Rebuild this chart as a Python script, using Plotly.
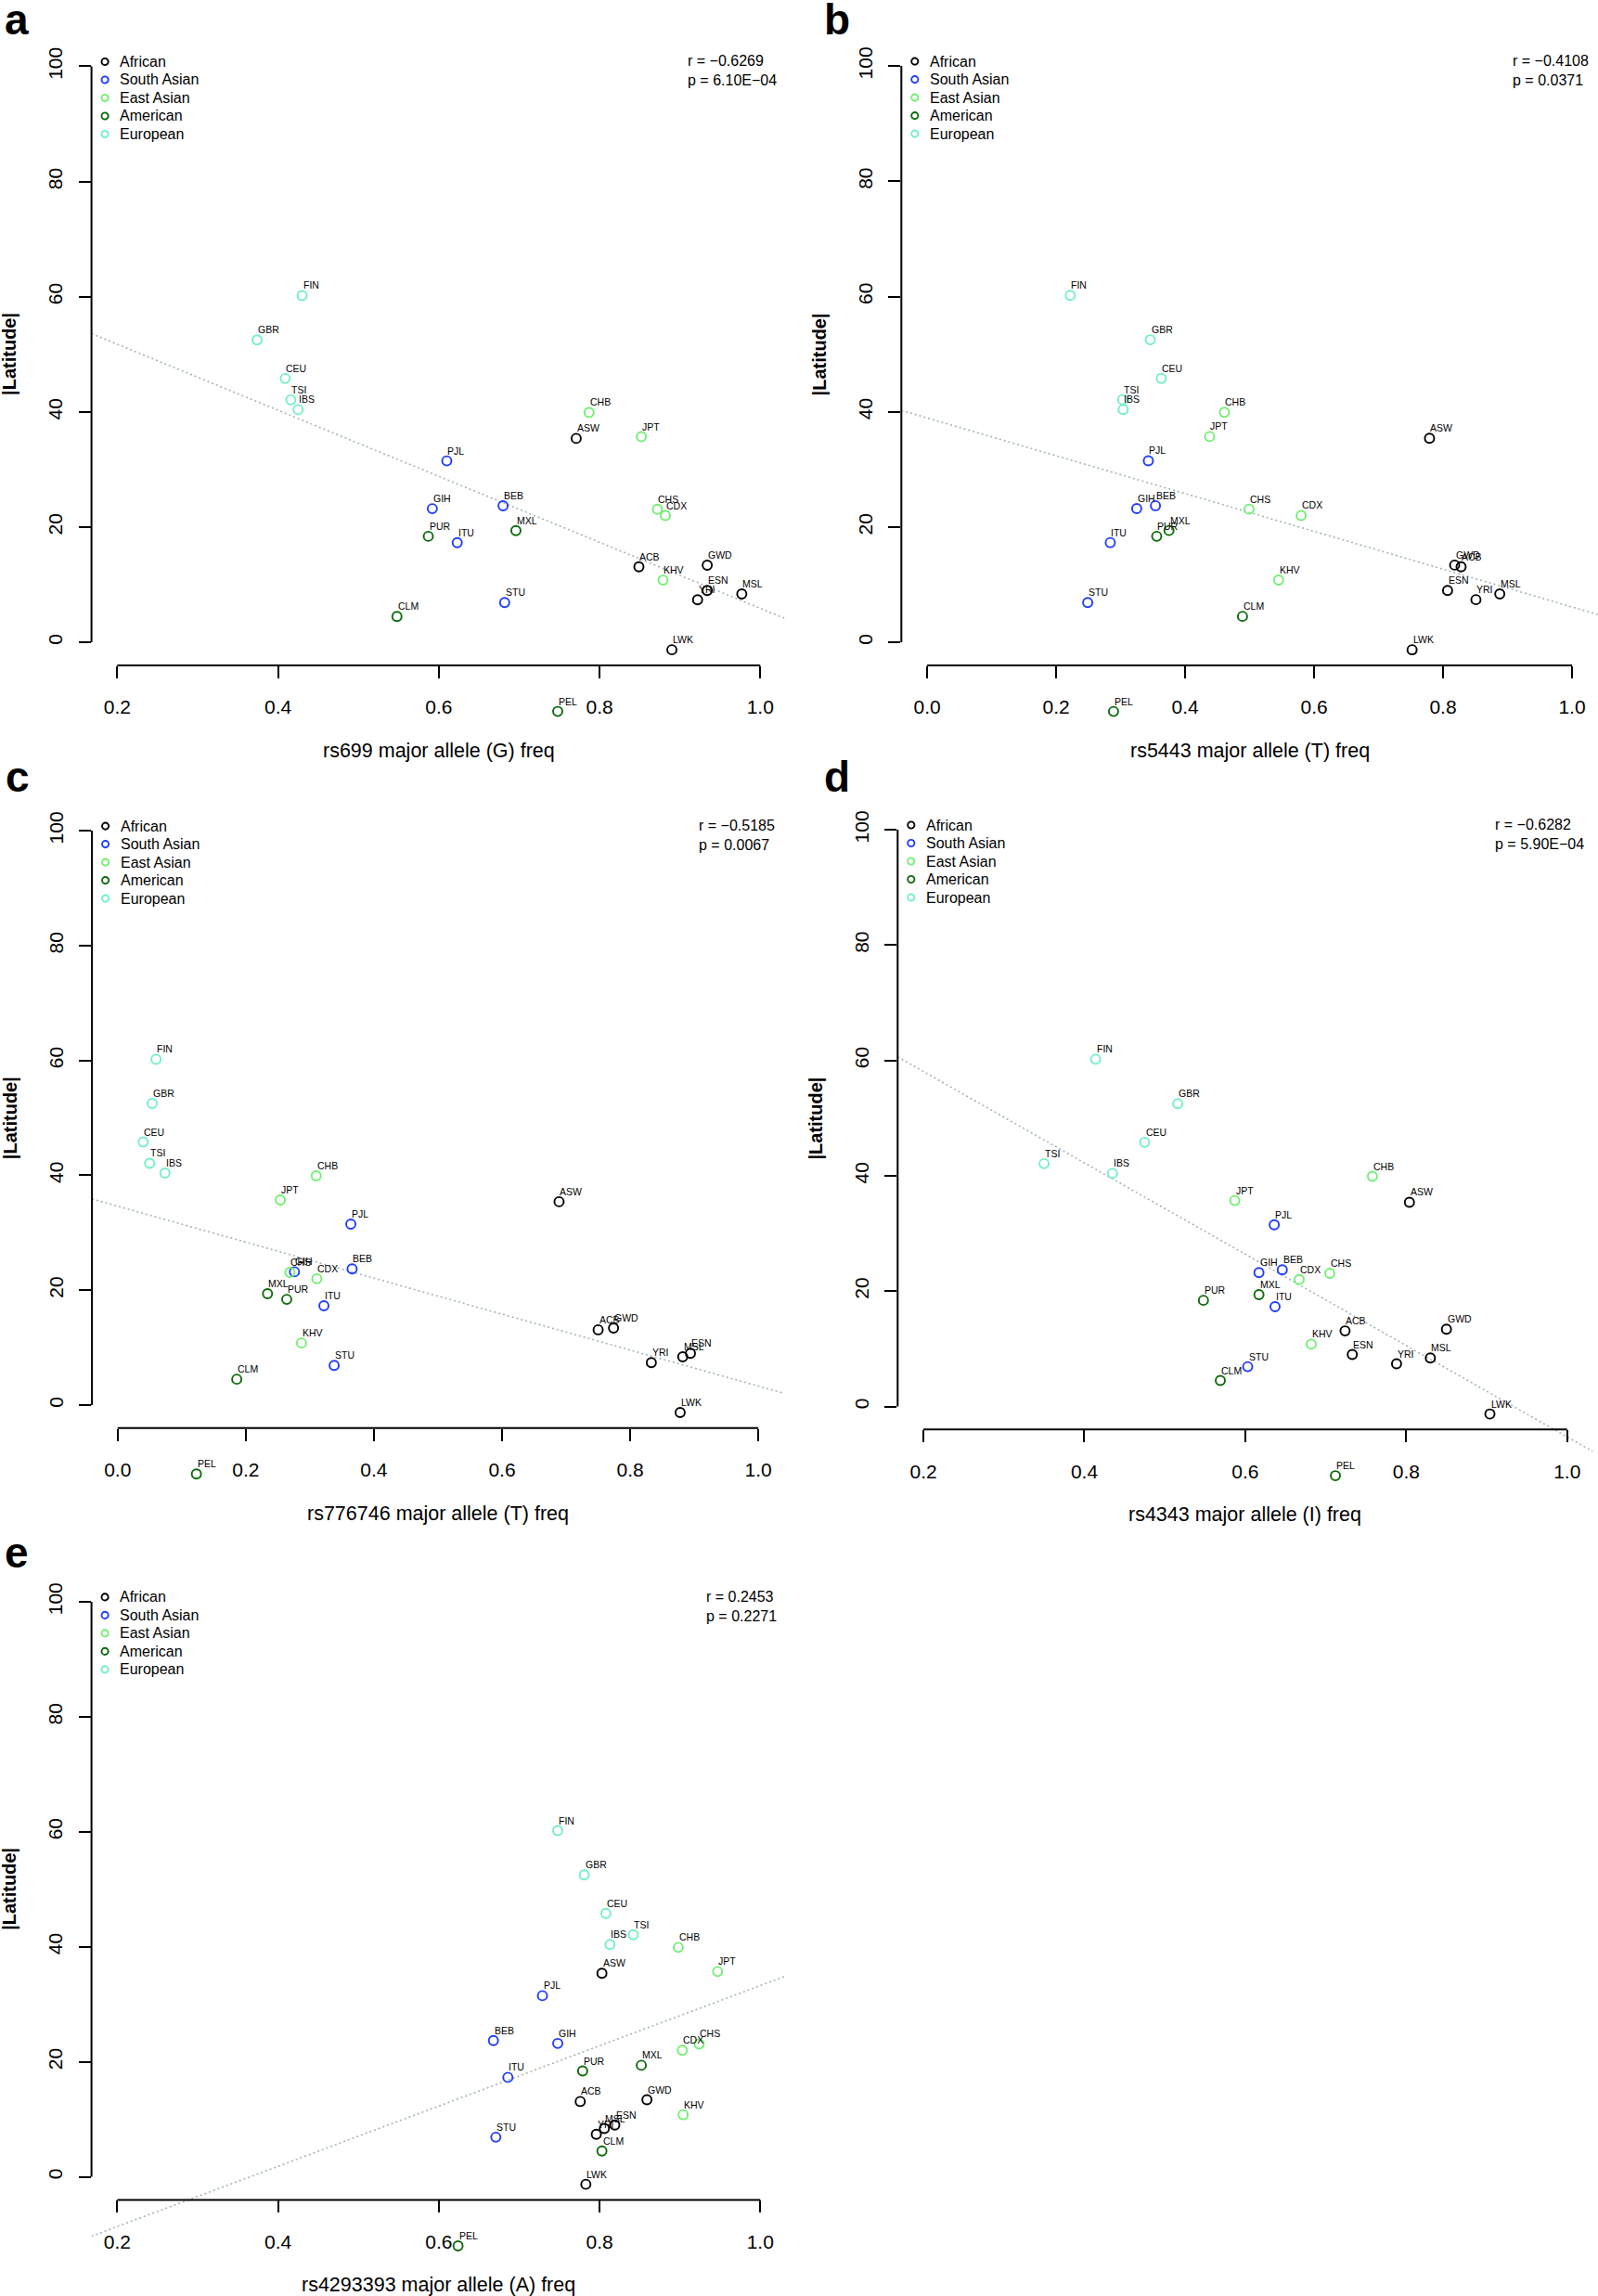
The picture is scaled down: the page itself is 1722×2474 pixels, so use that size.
import numpy as np
import plotly.graph_objects as go

W, H = 1722, 2474
FONT = "Liberation Sans, Arial, Helvetica, sans-serif"

# ---------------- data ----------------
populations = ["ACB", "ASW", "ESN", "GWD", "LWK", "MSL", "YRI",
               "BEB", "GIH", "ITU", "PJL", "STU",
               "CDX", "CHB", "CHS", "JPT", "KHV",
               "CLM", "MXL", "PEL", "PUR",
               "CEU", "FIN", "GBR", "IBS", "TSI"]
population_group = ["African"] * 7 + ["South Asian"] * 5 + ["East Asian"] * 5 + \
                   ["American"] * 4 + ["European"] * 5
latitude = [13.1, 35.4, 9.0, 13.4, -1.3, 8.4, 7.4,
            23.7, 23.2, 17.3, 31.5, 6.9,
            22.0, 39.9, 23.1, 35.7, 10.8,
            4.5, 19.4, -12.0, 18.4,
            45.8, 60.2, 52.5, 40.4, 42.1]

group_names = ["African", "South Asian", "East Asian", "American", "European"]
group_colors = ["#000000", "#1f3cff", "#70f070", "#0a6a0a", "#72f0c4"]

freq_rs699 = [0.849, 0.771, 0.934, 0.934, 0.890, 0.977, 0.922,
              0.680, 0.592, 0.623, 0.610, 0.682,
              0.882, 0.787, 0.872, 0.852, 0.879,
              0.548, 0.696, 0.748, 0.587,
              0.409, 0.430, 0.374, 0.425, 0.416]
freq_rs5443 = [0.828, 0.779, 0.807, 0.818, 0.752, 0.888, 0.851,
               0.354, 0.325, 0.284, 0.343, 0.249,
               0.580, 0.461, 0.499, 0.438, 0.545,
               0.489, 0.375, 0.289, 0.356,
               0.363, 0.222, 0.346, 0.304, 0.303]
freq_rs776746 = [0.750, 0.689, 0.894, 0.774, 0.878, 0.882, 0.833,
                 0.366, 0.276, 0.322, 0.364, 0.338,
                 0.311, 0.310, 0.269, 0.254, 0.287,
                 0.186, 0.234, 0.123, 0.264,
                 0.040, 0.060, 0.054, 0.074, 0.050]
freq_rs4343 = [0.724, 0.804, 0.733, 0.850, 0.904, 0.830, 0.788,
               0.646, 0.617, 0.637, 0.636, 0.603,
               0.667, 0.758, 0.705, 0.587, 0.682,
               0.569, 0.617, 0.712, 0.548,
               0.475, 0.414, 0.516, 0.435, 0.350]
freq_rs4293393 = [0.776, 0.803, 0.819, 0.859, 0.783, 0.806, 0.796,
                  0.668, 0.748, 0.686, 0.729, 0.671,
                  0.903, 0.898, 0.924, 0.947, 0.904,
                  0.803, 0.852, 0.624, 0.779,
                  0.808, 0.748, 0.781, 0.813, 0.842]

panel_letters = ["a", "b", "c", "d", "e"]
panel_titles = ["rs699 major allele (G) freq", "rs5443 major allele (T) freq",
                "rs776746 major allele (T) freq", "rs4343 major allele (I) freq",
                "rs4293393 major allele (A) freq"]
panel_freqs = [freq_rs699, freq_rs5443, freq_rs776746, freq_rs4343, freq_rs4293393]
panel_r = ["r = \u22120.6269", "r = \u22120.4108", "r = \u22120.5185", "r = \u22120.6282", "r = 0.2453"]
panel_p = ["p = 6.10E\u221204", "p = 0.0371", "p = 0.0067", "p = 5.90E\u221204", "p = 0.2271"]
panel_xticks = [[0.2, 0.4, 0.6, 0.8, 1.0],
                [0.0, 0.2, 0.4, 0.6, 0.8, 1.0],
                [0.0, 0.2, 0.4, 0.6, 0.8, 1.0],
                [0.2, 0.4, 0.6, 0.8, 1.0],
                [0.2, 0.4, 0.6, 0.8, 1.0]]
y_ticks = [0, 20, 40, 60, 80, 100]

# ---------------- layout geometry (pixels) ----------------
geom = [
    dict(L=98.6, R=847.0, y0px=692.1, ppu=6.206, lx=3),
    dict(L=971.3, R=1721.8, y0px=692.1, ppu=6.21, lx=886),
    dict(L=99.1, R=844.8, y0px=1514.0, ppu=6.189, lx=4),
    dict(L=967.3, R=1716.5, y0px=1515.5, ppu=6.215, lx=886),
    dict(L=98.6, R=847.0, y0px=2345.6, ppu=6.197, lx=3),
]
Y_LO, Y_HI = -15, 104


def px_x(px):
    return px / W


def px_y(px):
    return 1 - px / H


fig = go.Figure()
shapes = []
annotations = []

for i in range(5):
    g = geom[i]
    xt = panel_xticks[i]
    span = xt[-1] - xt[0]
    xr = [xt[0] - 0.04 * span, xt[-1] + 0.04 * span]
    ax = "" if i == 0 else str(i + 1)
    xref, yref = "x" + ax, "y" + ax
    top_px = g["y0px"] - Y_HI * g["ppu"]
    bot_px = g["y0px"] - Y_LO * g["ppu"]
    axis_px = g["y0px"] + 4 * g["ppu"]

    fig.layout["xaxis" + ax] = dict(
        domain=[px_x(g["L"]), px_x(g["R"])], range=xr, anchor="free",
        position=px_y(axis_px), showgrid=False, zeroline=False, showline=False,
        ticks="outside", ticklen=13, tickwidth=2, tickcolor="black",
        tickvals=xt, ticktext=["%.1f" % v for v in xt],
        tickfont=dict(family=FONT, size=21, color="black"), ticklabelstandoff=13)
    fig.layout["yaxis" + ax] = dict(
        domain=[px_y(bot_px), px_y(top_px)], range=[Y_LO, Y_HI], anchor=xref,
        showgrid=False, zeroline=False, showline=False,
        ticks="outside", ticklen=13, tickwidth=2, tickcolor="black",
        tickvals=y_ticks, ticktext=[str(v) for v in y_ticks], tickangle=-90,
        tickfont=dict(family=FONT, size=21, color="black"), ticklabelstandoff=9)

    # axis lines spanning first..last tick (R style)
    shapes.append(dict(type="line", xref="paper", yref=yref, x0=px_x(g["L"]), x1=px_x(g["L"]),
                       y0=y_ticks[0], y1=y_ticks[-1], line=dict(color="black", width=2)))
    shapes.append(dict(type="line", xref=xref, yref="paper", x0=xt[0], x1=xt[-1],
                       y0=px_y(axis_px), y1=px_y(axis_px), line=dict(color="black", width=2)))

    freqs = np.array(panel_freqs[i])
    lat = np.array(latitude)
    slope, intercept = np.polyfit(freqs, lat, 1)
    lx = np.array(xr)
    fig.add_trace(go.Scatter(x=lx, y=intercept + slope * lx, mode="lines", xaxis=xref, yaxis=yref,
                             line=dict(color="#a3b5b5", width=1.6, dash="2px,3px"),
                             showlegend=False, hoverinfo="skip"))

    for gname, gcol in zip(group_names, group_colors):
        idx = [k for k, gg in enumerate(population_group) if gg == gname]
        fig.add_trace(go.Scatter(
            x=[panel_freqs[i][k] for k in idx], y=[latitude[k] for k in idx],
            text=[populations[k] for k in idx], mode="markers", xaxis=xref, yaxis=yref,
            marker=dict(symbol="circle-open", size=10, color=gcol, line=dict(width=1.9, color=gcol)),
            cliponaxis=False, showlegend=False, name=gname))

    for k, pop in enumerate(populations):
        annotations.append(dict(x=panel_freqs[i][k], y=latitude[k], xref=xref, yref=yref,
                                text=pop, showarrow=False, xanchor="left", yanchor="bottom",
                                xshift=-1, yshift=3, font=dict(family=FONT, size=10.5, color="black")))

    # manual legend (top-left of plot region)
    row1 = g["y0px"] - 100 * g["ppu"] - 5
    for j, (gname, gcol) in enumerate(zip(group_names, group_colors)):
        ry = row1 + j * 19.5
        shapes.append(dict(type="circle", xref="paper", yref="paper",
                           xsizemode="pixel", ysizemode="pixel",
                           xanchor=px_x(g["L"] + 14.5), yanchor=px_y(ry),
                           x0=-3.6, x1=3.6, y0=-3.6, y1=3.6,
                           line=dict(color=gcol, width=1.9)))
        annotations.append(dict(x=px_x(g["L"] + 28.5), y=px_y(ry), xref="paper", yref="paper",
                                text=gname, showarrow=False, xanchor="left", yanchor="middle",
                                font=dict(family=FONT, size=16, color="black")))

    # r / p text (top-right)
    annotations.append(dict(x=px_x(g["R"] - 8), y=px_y(row1 + 9.75), xref="paper", yref="paper",
                            text=panel_r[i] + "<br>" + panel_p[i], showarrow=False,
                            xanchor="right", yanchor="middle", align="left",
                            font=dict(family=FONT, size=16, color="black")))

    # axis titles
    annotations.append(dict(x=px_x((g["L"] + g["R"]) / 2), y=px_y(axis_px + 92), xref="paper", yref="paper",
                            text=panel_titles[i], showarrow=False, xanchor="center", yanchor="middle",
                            font=dict(family=FONT, size=21.5, color="black")))
    annotations.append(dict(x=px_x(g["L"] - 88.5), y=px_y(g["y0px"] - 50 * g["ppu"]), xref="paper", yref="paper",
                            text="<b>|Latitude|</b>", textangle=-90, showarrow=False,
                            xanchor="center", yanchor="middle",
                            font=dict(family=FONT, size=20, color="black")))

    # panel letter
    base = [37, 37, 853, 853, 1688.6][i]
    annotations.append(dict(x=px_x(g["lx"]), y=px_y(base - 15.6), xref="paper", yref="paper",
                            text="<b>%s</b>" % panel_letters[i], showarrow=False,
                            xanchor="left", yanchor="middle",
                            font=dict(family=FONT, size=46, color="black")))

fig.update_layout(width=W, height=H, margin=dict(l=0, r=0, t=0, b=0),
                  paper_bgcolor="white", plot_bgcolor="white",
                  shapes=shapes, annotations=annotations, showlegend=False)

fig.write_html("out.html", config={"displayModeBar": False},
               post_script="document.body.style.margin='0px';document.body.style.padding='0px';")
